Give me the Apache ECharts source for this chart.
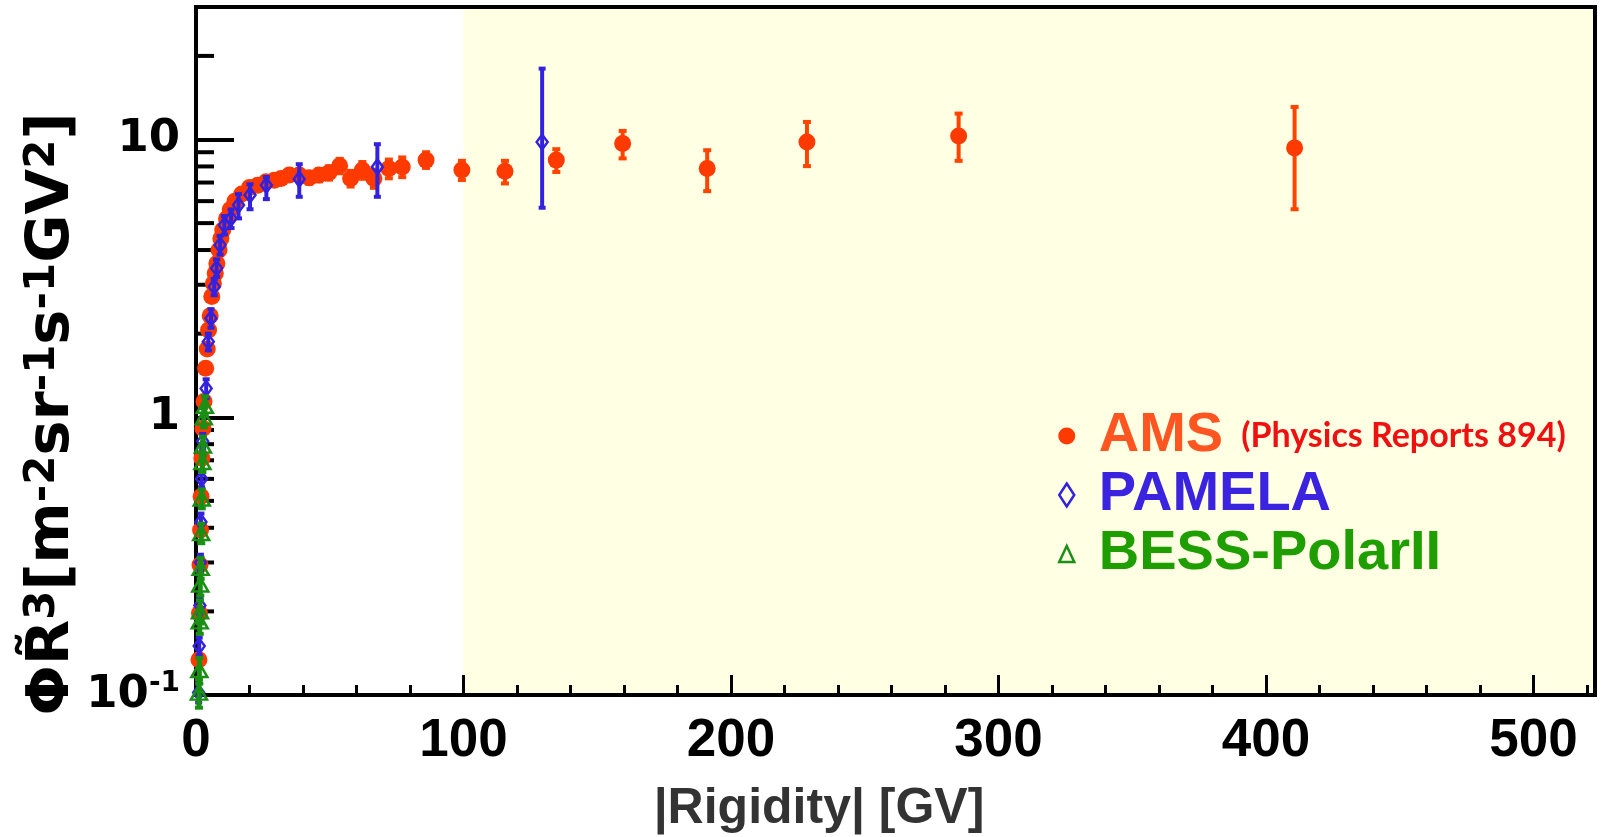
<!DOCTYPE html>
<html>
<head>
<meta charset="utf-8">
<script src="https://cdn.jsdelivr.net/npm/echarts@6.0.0/dist/echarts.min.js"></script>
<style>
  html, body { margin: 0; padding: 0; background: #fff; }
  #chart { width: 1601px; height: 837px; }
</style>
</head>
<body>
<div id="chart"></div>
<script>
// AMS (Physics Reports 894)
const amsRigidity = [1.1, 1.3, 1.5, 1.7, 1.9, 2.2, 2.6, 3.0, 3.6, 4.2, 4.7, 5.3, 5.9, 6.5, 7.2, 7.8, 8.6, 9.3, 10.0,
  11.4, 12.8, 14.6, 17.1, 20.0, 23.1, 26.2, 29.3, 31.8, 34.9, 38.6, 42.3, 46.0, 49.7, 53.7, 57.8, 62.2, 66.5,
  72.1, 77.1, 86.0, 99.4, 115.5, 134.7, 159.5, 191.1, 228.4, 285.1, 410.7];
const amsFlux = [0.134, 0.197, 0.294, 0.393, 0.518, 0.712, 0.913, 1.14, 1.50, 1.76, 2.06, 2.32, 2.72, 3.03, 3.30, 3.58, 4.00, 4.40, 4.72,
  5.18, 5.60, 6.00, 6.36, 6.72, 6.85, 7.05, 7.13, 7.24, 7.45, 7.45, 7.28, 7.45, 7.59, 8.04, 7.24, 7.76, 7.24,
  7.86, 7.97, 8.43, 7.76, 7.69, 8.43, 9.67, 7.86, 9.80, 10.3, 9.33];
const amsLow = [0.128, 0.189, 0.283, 0.379, 0.500, 0.688, 0.884, 1.10, 1.45, 1.70, 1.99, 2.24, 2.63, 2.93, 3.19, 3.46, 3.87, 4.26, 4.57,
  5.02, 5.42, 5.81, 6.16, 6.50, 6.62, 6.80, 6.86, 6.95, 7.14, 7.12, 6.93, 7.07, 7.17, 7.56, 6.77, 7.22, 6.70,
  7.25, 7.32, 7.90, 7.15, 6.95, 7.64, 8.55, 6.52, 8.02, 8.38, 5.61];
const amsHigh = [0.140, 0.205, 0.305, 0.407, 0.536, 0.736, 0.942, 1.18, 1.55, 1.82, 2.13, 2.40, 2.81, 3.13, 3.41, 3.70, 4.13, 4.54, 4.87,
  5.34, 5.78, 6.19, 6.56, 6.94, 7.08, 7.30, 7.40, 7.53, 7.76, 7.78, 7.63, 7.83, 8.01, 8.52, 7.71, 8.30, 7.78,
  8.47, 8.62, 9.00, 8.38, 8.38, 9.23, 10.74, 9.15, 11.57, 12.4, 13.1];

// PAMELA
const pamelaRigidity = [1.0, 1.2, 1.45, 1.65, 1.85, 2.1, 2.5, 3.8, 4.6, 5.6, 6.8, 7.7, 9.0, 10.6, 13.1, 15.9, 20.2, 26.3, 38.6, 67.8, 129.4];
const pamelaFlux = [0.102, 0.150, 0.21, 0.30, 0.42, 0.60, 0.82, 1.27, 1.87, 2.27, 2.95, 3.44, 4.17, 4.92, 5.20, 5.81, 6.31, 6.85, 7.20, 7.97, 9.80];
const pamelaLow = [0.094, 0.139, 0.195, 0.28, 0.39, 0.56, 0.77, 1.17, 1.74, 2.10, 2.75, 3.20, 3.85, 4.55, 4.80, 5.20, 5.61, 6.10, 6.22, 6.22, 5.68];
const pamelaHigh = [0.110, 0.161, 0.225, 0.32, 0.45, 0.64, 0.87, 1.37, 2.00, 2.45, 3.15, 3.70, 4.50, 5.30, 5.60, 6.36, 6.90, 7.33, 8.15, 9.62, 18.0];

// BESS-PolarII
const bessRigidity = [1.1, 1.25, 1.4, 1.5, 1.6, 1.75, 1.95, 2.15, 2.4, 2.6, 2.9, 3.3];
const bessFlux = [0.102, 0.123, 0.184, 0.200, 0.250, 0.287, 0.383, 0.510, 0.690, 0.790, 1.00, 1.10];
const bessLow = [0.090, 0.110, 0.166, 0.181, 0.228, 0.262, 0.352, 0.470, 0.635, 0.728, 0.92, 1.01];
const bessHigh = [0.114, 0.136, 0.202, 0.219, 0.272, 0.312, 0.414, 0.550, 0.745, 0.852, 1.08, 1.19];

// axes
const xTicks = [0, 100, 200, 300, 400, 500];
const yMinorTicks = [0.2, 0.3, 0.4, 0.5, 0.6, 0.7, 0.8, 0.9, 2, 3, 4, 5, 6, 7, 8, 9, 20];
const highRigidityFrom = 100;

const AMS_COLOR = '#ff3a00';
const PAMELA_COLOR = '#3322dd';
const BESS_COLOR = '#1a8f14';
const FONT = '"Liberation Sans", Arial, sans-serif';
const WIDE_FONT = '"DejaVu Sans", Verdana, sans-serif';
const X_MIN = 0, X_MAX = 523, Y_MIN = 0.1, Y_MAX = 30;

const chart = echarts.init(document.getElementById('chart'), null, {renderer: 'canvas'});

function errorBar(color, width, capWidth) {
  return function (params, api) {
    const x = api.value(0);
    const lo = api.coord([x, api.value(1)]);
    const hi = api.coord([x, api.value(2)]);
    return {
      type: 'group',
      children: [
        {type: 'line', shape: {x1: hi[0], y1: hi[1], x2: lo[0], y2: lo[1]}, style: {stroke: color, lineWidth: width}},
        {type: 'rect', shape: {x: hi[0] - capWidth / 2, y: hi[1] - 2, width: capWidth, height: 4}, style: {fill: color}},
        {type: 'rect', shape: {x: lo[0] - capWidth / 2, y: lo[1] - 2, width: capWidth, height: 4}, style: {fill: color}},
      ],
    };
  };
}

function zip(xs, ...cols) {
  return xs.map((x, i) => [x, ...cols.map(c => c[i])]);
}

const option = {
  animation: false,
  backgroundColor: '#fff',
  grid: {
    left: 196,
    right: 6,
    top: 7,
    bottom: 142,
    show: true,
    z: 2,
    borderColor: '#000',
    borderWidth: 4,
    backgroundColor: 'transparent',
    outerBoundsMode: 'none',
  },
  legend: {
    orient: 'vertical',
    left: 1054,
    top: 408,
    padding: 0,
    itemGap: 3,
    itemWidth: 50,
    itemHeight: 23,
    selectedMode: false,
    textStyle: {
      fontFamily: FONT,
      fontWeight: 'bold',
      fontSize: 56,
      lineHeight: 56,
      padding: [0, 0, 0, 2],
      rich: {
        a: {fontFamily: FONT, fontWeight: 'bold', fontSize: 56, lineHeight: 56, color: '#ff5520'},
        b: {fontFamily: 'Lato, "Open Sans", sans-serif', fontWeight: 'bold', fontSize: 34, lineHeight: 56, color: '#ee1111', padding: [0, 0, 0, 18]},
      },
    },
    formatter: name => (name === 'AMS' ? '{a|AMS}{b|(Physics Reports 894)}' : name),
    data: [
      {
        name: 'AMS',
        icon: 'path://M0,0M23,23M3,11.5a8.5,8.5 0 1,0 17,0a8.5,8.5 0 1,0 -17,0Z',
        itemStyle: {color: AMS_COLOR, borderWidth: 0},
      },
      {
        name: 'PAMELA',
        icon: 'path://M0,0M23,23M11.5,0L19,11.5L11.5,23L4,11.5Z',
        itemStyle: {color: 'transparent', borderColor: PAMELA_COLOR, borderWidth: 2.5},
        textStyle: {color: '#3a24e0'},
      },
      {
        name: 'BESS-PolarII',
        icon: 'path://M0,0M23,23M11.5,3.5L19,19.5L4,19.5Z',
        itemStyle: {color: 'transparent', borderColor: BESS_COLOR, borderWidth: 2.5},
        textStyle: {color: '#1e9e00'},
      },
    ],
  },
  xAxis: {
    type: 'value',
    min: X_MIN,
    max: X_MAX,
    interval: 100,
    z: 2,
    axisLine: {show: true, onZero: false, lineStyle: {color: '#000', width: 4}},
    axisTick: {show: true, inside: true, length: 20, lineStyle: {color: '#000', width: 3}},
    minorTick: {show: true, splitNumber: 5, length: 10, lineStyle: {color: '#000', width: 3}},
    splitLine: {show: false},
    minorSplitLine: {show: false},
    axisLabel: {
      show: true,
      margin: 20,
      color: '#000',
      fontFamily: FONT,
      fontWeight: 'bold',
      fontSize: 53,
      showMaxLabel: false,
      formatter: v => (xTicks.includes(v) ? String(v) : ''),
    },
  },
  yAxis: {
    type: 'log',
    logBase: 10,
    min: Y_MIN,
    max: Y_MAX,
    z: 2,
    axisLine: {show: true, onZero: false, lineStyle: {color: '#000', width: 4}},
    axisTick: {show: true, inside: true, length: 38, lineStyle: {color: '#000', width: 4}},
    minorTick: {show: false},
    splitLine: {show: false},
    axisLabel: {
      show: true,
      margin: 16,
      color: '#000',
      fontFamily: WIDE_FONT,
      fontWeight: 'bold',
      fontSize: 45,
      showMaxLabel: false,
      formatter: v => {
        const e = Math.log10(v);
        if (Math.abs(e - Math.round(e)) > 1e-6) return '';
        if (Math.round(e) === -1) return '{m|10}{s|-1}';
        if (Math.round(e) === 0) return '1';
        return '10';
      },
      rich: {
        m: {fontFamily: WIDE_FONT, fontWeight: 'bold', fontSize: 45, color: '#000', lineHeight: 50},
        s: {fontFamily: WIDE_FONT, fontWeight: 'bold', fontSize: 28, color: '#000', verticalAlign: 'top', lineHeight: 30},
      },
    },
  },
  graphic: [
    {
      type: 'text',
      x: 53,
      y: 414,
      rotation: Math.PI / 2,
      style: {
        text: '{m|\u03A6R\u0303}{s|3}{m|[m}{s|-2}{m|sr}{s|-1}{m|s}{s|-1}{m|GV}{s|2}{m|]}',
        align: 'center',
        verticalAlign: 'middle',
        rich: {
          m: {fontFamily: WIDE_FONT, fontWeight: 'bold', fontSize: 59, lineHeight: 62, fill: '#000'},
          s: {fontFamily: WIDE_FONT, fontWeight: 'bold', fontSize: 42, lineHeight: 62, verticalAlign: 'top', fill: '#000'},
        },
      },
    },
    {
      type: 'text',
      x: 819,
      y: 809,
      style: {
        text: '|Rigidity| [GV]',
        align: 'center',
        verticalAlign: 'middle',
        fontFamily: FONT,
        fontWeight: 'bold',
        fontSize: 50,
        fill: '#333',
      },
    },
  ],
  series: [
    {
      // pale band for R > 100 GV
      name: 'band',
      type: 'line',
      z: 1,
      data: [],
      markArea: {
        silent: true,
        itemStyle: {color: '#ffffe4'},
        data: [[{xAxis: highRigidityFrom, yAxis: Y_MIN}, {xAxis: X_MAX, yAxis: Y_MAX}]],
      },
    },
    {
      name: 'yMinorTicks',
      type: 'custom',
      z: 2,
      silent: true,
      clip: false,
      data: yMinorTicks.map(v => [X_MIN, v]),
      renderItem: (params, api) => {
        const p = api.coord([api.value(0), api.value(1)]);
        return {type: 'line', shape: {x1: p[0], y1: p[1], x2: p[0] + 18, y2: p[1]}, style: {stroke: '#000', lineWidth: 4}};
      },
    },
    {
      name: 'AMS err',
      type: 'custom',
      z: 3,
      silent: true,
      data: zip(amsRigidity, amsLow, amsHigh),
      encode: {x: 0, y: [1, 2]},
      renderItem: errorBar('#ff4400', 4, 8),
    },
    {
      name: 'AMS',
      type: 'scatter',
      z: 4,
      symbol: 'circle',
      symbolSize: 17,
      itemStyle: {color: AMS_COLOR, opacity: 1},
      data: zip(amsRigidity, amsFlux),
    },
    {
      name: 'PAMELA err',
      type: 'custom',
      z: 5,
      silent: true,
      data: zip(pamelaRigidity, pamelaLow, pamelaHigh),
      encode: {x: 0, y: [1, 2]},
      renderItem: errorBar(PAMELA_COLOR, 4, 7),
    },
    {
      name: 'PAMELA',
      type: 'scatter',
      z: 6,
      symbol: 'diamond',
      symbolSize: [11, 15],
      itemStyle: {color: 'transparent', borderColor: PAMELA_COLOR, borderWidth: 2.5, opacity: 1},
      data: zip(pamelaRigidity, pamelaFlux),
    },
    {
      name: 'BESS err',
      type: 'custom',
      z: 7,
      silent: true,
      data: zip(bessRigidity, bessLow, bessHigh),
      encode: {x: 0, y: [1, 2]},
      renderItem: errorBar(BESS_COLOR, 5, 8),
    },
    {
      name: 'BESS-PolarII',
      type: 'scatter',
      z: 8,
      symbol: 'triangle',
      symbolSize: [16, 14],
      itemStyle: {color: 'transparent', borderColor: BESS_COLOR, borderWidth: 2.5, opacity: 1},
      data: zip(bessRigidity, bessFlux),
    },
  ],
};

chart.setOption(option, true);
chart.resize();
</script>
</body>
</html>
